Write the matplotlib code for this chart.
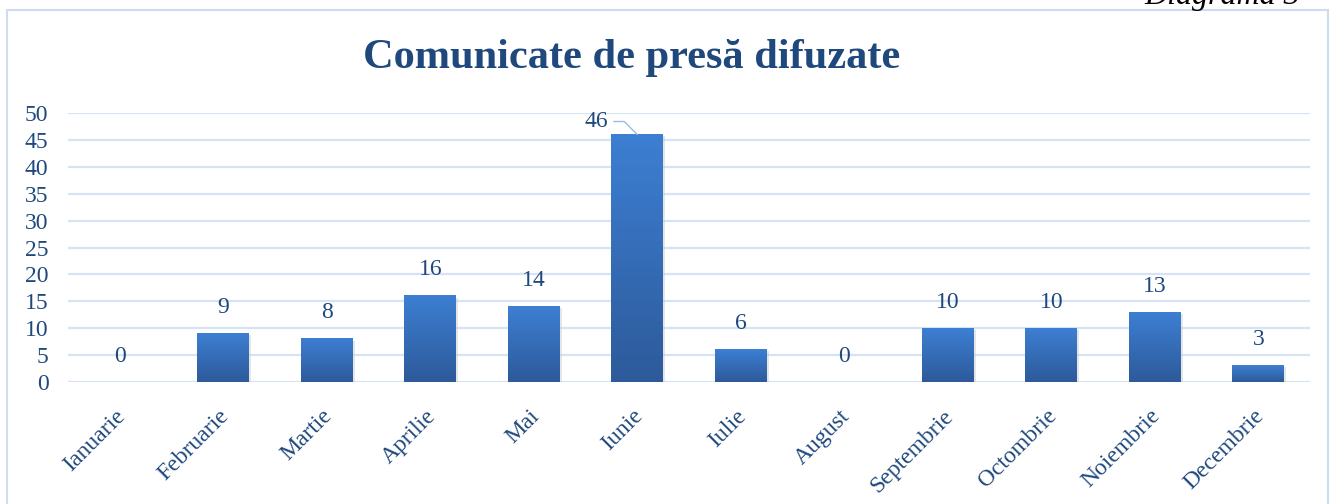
import numpy as np
import matplotlib
matplotlib.use("Agg")
import matplotlib.pyplot as plt
from matplotlib.colors import LinearSegmentedColormap
from matplotlib.patches import Rectangle
from matplotlib.transforms import ScaledTranslation

months = ['Ianuarie', 'Februarie', 'Martie', 'Aprilie', 'Mai', 'Iunie',
          'Iulie', 'August', 'Septembrie', 'Octombrie', 'Noiembrie', 'Decembrie']
values = [0, 9, 8, 16, 14, 46, 6, 0, 10, 10, 13, 3]

title = 'Comunicate de presă difuzate'
caption = 'Diagrama 3'

plt.rcParams['font.family'] = ['Liberation Serif', 'DejaVu Serif']

W, H = 1330, 504
fig = plt.figure(figsize=(W / 100, H / 100), dpi=100)

# outer chart frame
fig.patches.append(Rectangle((7 / W, -0.05), (1328 - 7) / W, (H - 10) / H + 0.05,
                             transform=fig.transFigure, fill=False,
                             edgecolor='#cddcf0', lw=1.5))

ax = fig.add_axes([68 / W, (H - 382) / H, (1310 - 68) / W, (382 - 113) / H])

txt_col = '#1f497d'
grid_col = '#d6e3f5'

x = np.arange(len(months))
bw = 0.5
cmap = LinearSegmentedColormap.from_list('bar', ['#2d5a9a', '#3d7fd3'])
grad = np.linspace(0, 1, 256).reshape(-1, 1)

for i, v in zip(x, values):
    if v > 0:
        # soft shadow
        ax.add_patch(Rectangle((i - bw / 2 + 0.02, -0.3), bw, v,
                               facecolor='#c8c8c8', edgecolor='none',
                               alpha=0.45, zorder=2))
        ax.imshow(grad, extent=[i - bw / 2, i + bw / 2, 0, v], origin='lower',
                  aspect='auto', cmap=cmap, zorder=3)

for i, v in zip(x, values):
    if v == max(values):
        ax.annotate(str(v), xy=(i, v), xytext=(-41, 13), textcoords='offset pixels',
                    ha='center', va='center', fontsize=17, color=txt_col,
                    arrowprops=dict(arrowstyle='-', color='#9dbbe3', lw=1,
                                    connectionstyle='angle,angleA=0,angleB=135,rad=0',
                                    shrinkA=2, shrinkB=0), zorder=5)
    else:
        ax.annotate(str(v), xy=(i, v), xytext=(0, 26), textcoords='offset pixels',
                    ha='center', va='center', fontsize=17, color=txt_col, zorder=5)

ax.set_xlim(-0.5, len(months) - 0.5)
ax.set_ylim(0, 50)
ax.set_yticks(np.arange(0, 51, 5))
ax.yaxis.grid(True, color=grid_col, lw=1.6)
ax.set_axisbelow(True)
for s in ax.spines.values():
    s.set_visible(False)
ax.tick_params(axis='y', length=0, pad=14, labelsize=17, labelcolor=txt_col)
ax.tick_params(axis='x', length=0, pad=17, labelsize=17, labelcolor=txt_col)
ax.set_xticks(x)
ax.set_xticklabels(months, rotation=45, ha='right', rotation_mode='anchor')
for lab in ax.get_xticklabels():
    lab.set_transform(lab.get_transform() +
                      ScaledTranslation(-0.05, 0, fig.dpi_scale_trans))

fig.text(632 / W, (H - 58) / H, title, ha='center', va='center',
         fontsize=30.5, fontweight='bold', color=txt_col)
fig.text(1300 / W, (H - 4) / H, caption, ha='right', va='baseline',
         fontsize=23, style='italic', color='black')

fig.savefig('out.png', dpi=100)
